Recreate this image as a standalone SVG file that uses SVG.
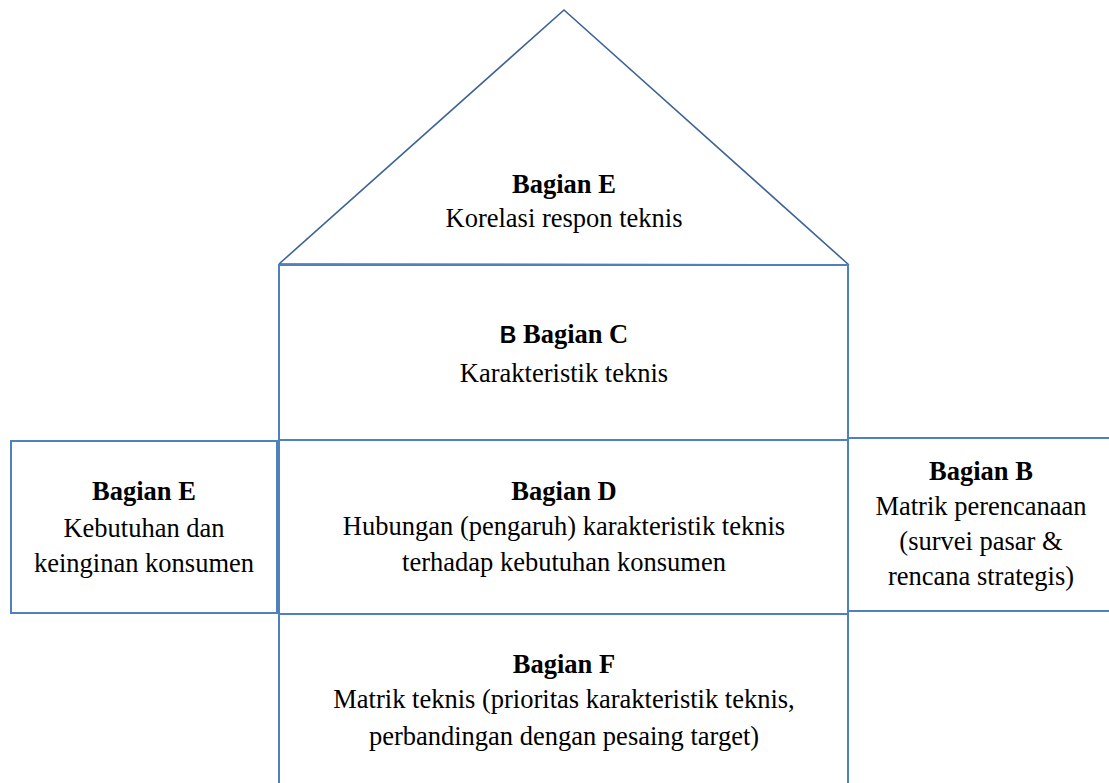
<svg xmlns="http://www.w3.org/2000/svg" width="1109" height="783" viewBox="0 0 1109 783">
<style>
.box{fill:#ffffff;stroke:#4f81bd;stroke-width:2}
.roof{fill:none;stroke:#3e6496;stroke-width:1.6;stroke-linejoin:miter}
.t{font-family:'Liberation Serif','Times New Roman',Times,Tinos,'DejaVu Serif',serif;font-size:26.5px;fill:#000000;text-anchor:middle}
.b{font-weight:bold}
.sans{font-family:'Liberation Sans',Arial,sans-serif;font-size:23px;font-weight:bold}
</style>
<rect width="1109" height="783" fill="#ffffff"/>
<g id="roof">
<polyline class="roof" points="279,264 564,10 849,265"/>
<line class="roof" x1="279" y1="264" x2="849" y2="265"/>
<text x="564" y="193" class="t b">Bagian E</text>
<text x="564" y="227" class="t">Korelasi respon teknis</text>
</g>
<g id="bagian-c">
<rect class="box" x="279" y="265" width="569" height="175"/>
<text x="564" y="343" class="t b"><tspan class="sans">B</tspan> Bagian C</text>
<text x="564" y="382" class="t">Karakteristik teknis</text>
</g>
<g id="bagian-e-left">
<rect class="box" x="11" y="441" width="266" height="172"/>
<text x="144" y="500" class="t b">Bagian E</text>
<text x="144" y="537" class="t">Kebutuhan dan</text>
<text x="144" y="572" class="t">keinginan konsumen</text>
</g>
<g id="bagian-b">
<rect class="box" x="848" y="438" width="270" height="173"/>
<text x="981" y="480" class="t b">Bagian B</text>
<text x="981" y="515" class="t">Matrik perencanaan</text>
<text x="981" y="550" class="t">(survei pasar &amp;</text>
<text x="981" y="585" class="t">rencana strategis)</text>
</g>
<g id="bagian-d">
<rect class="box" x="279" y="440" width="569" height="174"/>
<text x="564" y="500" class="t b">Bagian D</text>
<text x="564" y="535" class="t">Hubungan (pengaruh) karakteristik teknis</text>
<text x="564" y="571" class="t">terhadap kebutuhan konsumen</text>
</g>
<g id="bagian-f">
<rect class="box" x="279" y="614" width="569" height="180"/>
<text x="564" y="673" class="t b">Bagian F</text>
<text x="564" y="708" class="t">Matrik teknis (prioritas karakteristik teknis,</text>
<text x="564" y="745" class="t">perbandingan dengan pesaing target)</text>
</g>
<g id="connectors"></g>
</svg>
